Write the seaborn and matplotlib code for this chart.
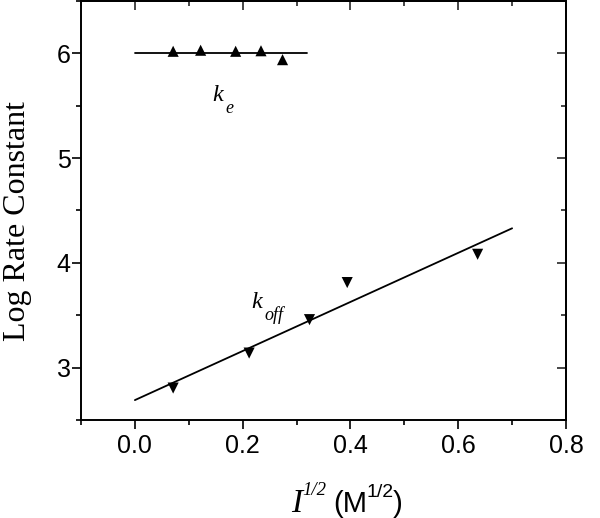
import matplotlib
matplotlib.use("Agg")
import matplotlib.pyplot as plt
import seaborn as sns
from matplotlib.ticker import MultipleLocator

# ---- data ----
ke_x = [0.071, 0.122, 0.187, 0.234, 0.274]
ke_y = [6.02, 6.03, 6.02, 6.025, 5.94]
koff_x = [0.071, 0.212, 0.324, 0.394, 0.636]
koff_y = [2.805, 3.139, 3.458, 3.812, 4.082]
ke_fit_x = [0.0, 0.32]
ke_fit_y = [6.0, 6.0]
koff_fit_x = [0.0, 0.70]
koff_fit_y = [2.69, 4.33]
x_ticks = [0.0, 0.2, 0.4, 0.6, 0.8]
y_ticks = [3, 4, 5, 6]

sns.set_theme(style="ticks")
plt.rcParams["font.family"] = ["Liberation Sans", "DejaVu Sans"]
plt.rcParams["text.color"] = "black"

W, H = 600, 518
fig = plt.figure(figsize=(W / 100, H / 100), dpi=100)
ax = fig.add_axes([81 / W, 98 / H, 485 / W, 419 / H])

sns.lineplot(x=ke_fit_x, y=ke_fit_y, ax=ax, color="black", lw=1.3)
sns.lineplot(x=koff_fit_x, y=koff_fit_y, ax=ax, color="black", lw=1.3)
sns.scatterplot(x=ke_x, y=ke_y, ax=ax, marker="^", s=64, color="black",
                edgecolor="none", zorder=3)
sns.scatterplot(x=koff_x, y=koff_y, ax=ax, marker="v", s=64, color="black",
                edgecolor="none", zorder=3)

ax.set_xlim(-0.1, 0.8)
ax.set_ylim(2.5, 6.5)
ax.set_xticks(x_ticks)
ax.set_xticklabels([f"{v:.1f}" for v in x_ticks])
ax.set_yticks(y_ticks)
ax.set_yticklabels([str(v) for v in y_ticks])
ax.xaxis.set_minor_locator(MultipleLocator(0.1))
ax.yaxis.set_minor_locator(MultipleLocator(0.5))

for sp in ax.spines.values():
    sp.set_linewidth(1.4)
    sp.set_color("black")
    sp.set_visible(True)

ax.tick_params(which="major", length=6.5, width=1.2, color="black",
               labelsize=18, labelcolor="black", direction="out")
ax.tick_params(which="minor", length=3.6, width=1.2, color="black",
               direction="out")
ax.tick_params(axis="y", pad=1)
ax.tick_params(axis="x", pad=3.5)

secx = ax.secondary_xaxis("top")
secx.set_xticks(x_ticks)
secx.xaxis.set_minor_locator(MultipleLocator(0.1))
secx.tick_params(which="major", direction="in", length=6.5, width=1.2,
                 labeltop=False)
secx.tick_params(which="minor", direction="in", length=3.6, width=1.2)
secx.spines["top"].set_linewidth(1.4)

secy = ax.secondary_yaxis("right")
secy.set_yticks(y_ticks)
secy.yaxis.set_minor_locator(MultipleLocator(0.5))
secy.tick_params(which="major", direction="in", length=6.5, width=1.2,
                 labelright=False)
secy.tick_params(which="minor", direction="in", length=3.6, width=1.2)
secy.spines["right"].set_linewidth(1.4)

ax.set_xlabel("")
ax.set_ylabel("Log Rate Constant", fontfamily="Liberation Serif",
              fontsize=23, color="black")
ax.yaxis.set_label_coords(-0.102, 0.475)

serif_it = dict(fontfamily="Liberation Serif", style="italic")
ax.text(0.1435, 5.543, "k", fontsize=17.5, va="baseline", ha="left", **serif_it)
ax.annotate("e", xy=(0.1435, 5.543), xytext=(9.2, -8.6),
            textcoords="offset points", fontsize=13, va="baseline",
            ha="left", **serif_it)
ax.text(0.2154, 3.566, "k", fontsize=17.5, va="baseline", ha="left", **serif_it)
ax.annotate("off", xy=(0.2154, 3.566), xytext=(10.0, -8.6),
            textcoords="offset points", fontsize=13, va="baseline",
            ha="left", **serif_it)

# x-axis label: I^{1/2} (M^{1/2}), pieces placed at pixel positions
def ftext(px, py_top, s, **kw):
    fig.text(px / W, 1 - py_top / H, s, ha="left", va="baseline", **kw)

ftext(291, 512, "I", fontsize=24, **serif_it)
ftext(302, 495, "1/2", fontsize=13.5, **serif_it)
ftext(333, 512, "(M", fontsize=21, fontfamily="Liberation Sans")
ftext(367, 497, "1/2", fontsize=14, fontfamily="Liberation Sans")
ftext(393, 512, ")", fontsize=21, fontfamily="Liberation Sans")

fig.savefig("out.png", dpi=100)
